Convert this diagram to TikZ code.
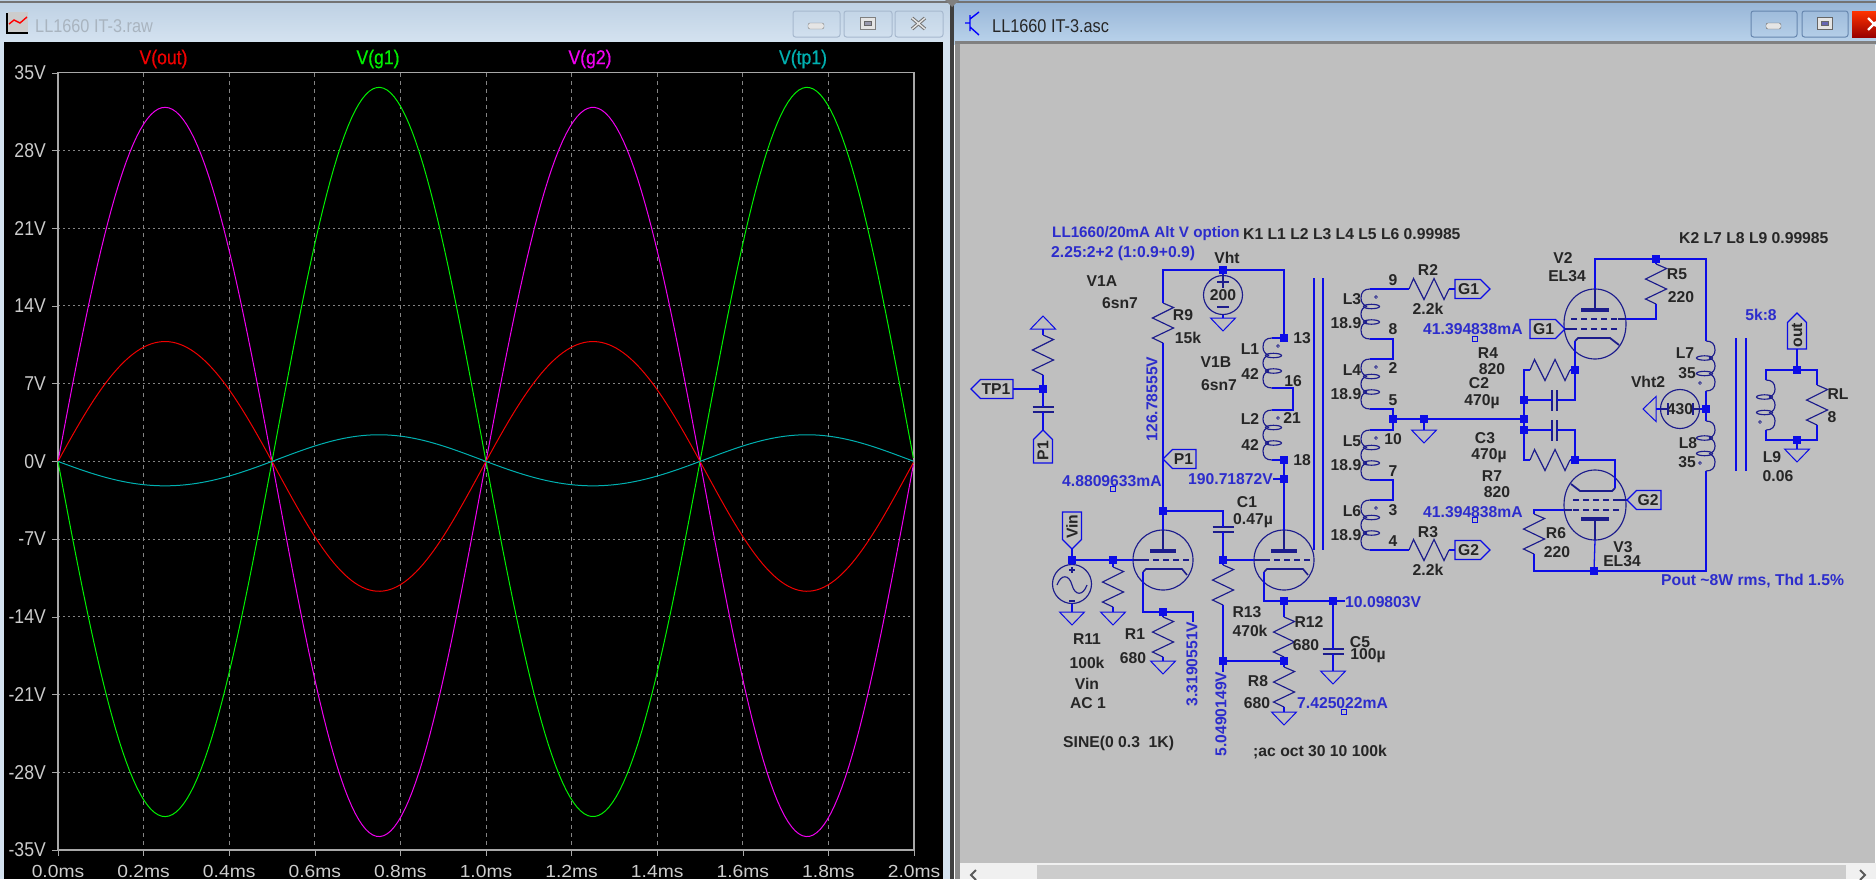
\documentclass[tikz,border=0pt]{standalone}
\usepackage{fontspec}
\setmainfont{Liberation Sans}
\newfontfamily\plotfont[FakeStretch=0.88]{Liberation Sans}
\newfontfamily\tickfont[FakeStretch=1.1]{Liberation Sans}
\newfontfamily\tracefont[FakeStretch=0.88,FakeBold=0.5]{Liberation Sans}
\definecolor{wirecol}{HTML}{0C0CE6}
\definecolor{partcol}{HTML}{1C1C8C}
\definecolor{lblcol}{HTML}{262626}
\definecolor{bluecol}{HTML}{2C2CCC}
\definecolor{sheet}{HTML}{BFBFBF}
\definecolor{plotgray}{HTML}{A8A8A8}
\definecolor{gridgray}{HTML}{848484}
\definecolor{vtp}{HTML}{00B0B0}
\definecolor{vgreen}{HTML}{00F000}
\definecolor{vpink}{HTML}{F000F0}
\definecolor{vred}{HTML}{F00000}
\definecolor{inacta}{HTML}{BDD0E3}
\definecolor{inactb}{HTML}{D4E2F0}
\definecolor{acta}{HTML}{96B4D6}
\definecolor{actb}{HTML}{BAD3EB}
\definecolor{btna}{HTML}{A6B8CE}
\definecolor{btnb}{HTML}{6686AE}
\definecolor{titlegray}{HTML}{A9B4BF}
\tikzset{
	wire/.style={draw=wirecol, line width=1.3pt},
	part/.style={draw=partcol, line width=1.15pt},
	dot/.style={fill=wirecol, inner sep=0, minimum size=7.5pt},
	probe/.style={draw=wirecol, line width=1pt, inner sep=0, minimum size=4.5pt},
	lbl/.style={text=lblcol, inner sep=0, font=\fontsize{15.7}{17}\selectfont\bfseries},
	vlbl/.style={text=bluecol, inner sep=0, font=\fontsize{15.7}{17}\selectfont\bfseries},
	axlbl/.style={text=black!20, inner sep=0, font=\plotfont\fontsize{20}{22}\selectfont},
	ticklbl/.style={text=black!20, inner sep=0, font=\tickfont\fontsize{17.5}{19}\selectfont},
	trlbl/.style={inner sep=0, font=\tracefont\fontsize{20}{22}\selectfont},
	srcc/.style={circle, part, inner sep=0, minimum size=39pt},
	winbtn/.style={draw=#1, rounded corners=2.5pt, line width=1pt, inner sep=0, minimum height=26pt},
	pics/resist/.style={code={
		\coordinate (-top) at (0, 0);
		\coordinate (-bot) at (0, 40);
		\draw[part] (-top) -- (10.5, 4.5) -- (-10.5, 15) -- (10.5, 25) -- (-10.5, 35) -- (-bot);
	}},
	pics/capac/.style={code={
		\coordinate (-top) at (0, 0);
		\coordinate (-bot) at (0, 5);
		\draw[part] (-10.5, 0) -- (10.5, 0) (-10.5, 5) -- (10.5, 5);
	}},
	pics/coil/.style={code={
		\coordinate (-top) at (0, 0);
		\coordinate (-bot) at (0, 50);
		\draw[part] (-top) .. controls (-6, 0) and (-9, 3) .. (-9, 9) .. controls (-9, 13) and (-7, 16) .. (-3, 17.5);
		\draw[part] (-3, 17.5) .. controls (-7, 18) and (-9, 21) .. (-9, 25) .. controls (-9, 29) and (-7, 32) .. (-3, 33);
		\draw[part] (-3, 33) .. controls (-7, 34) and (-9, 37) .. (-9, 41) .. controls (-9, 47) and (-6, 50) .. (-bot);
		\draw[part] (1.5, 17.5) ellipse (8 and 2.2);
		\draw[part] (1.5, 33) ellipse (8 and 2.2);
		\draw[part, line width=0.6pt] (6, 8) circle (1.4);
	}},
	pics/earth/.style={code={
		\coordinate (-top) at (0, 0);
		\draw[draw=wirecol, line width=1pt] (-12.5, 0) -- (12.5, 0) -- (0, 13) -- cycle;
	}},
	pics/flag/.style n args={3}{code={
		\coordinate (-tip) at (0, 0);
		\coordinate (-end) at (#1, 0);
		\draw[wire] (-tip) -- (9.5, -9.5) -- (#1, -9.5) -- (#1, 9.5) -- (9.5, 9.5) -- cycle;
		\node (-txt) at ({#1/2+4}, 0) [lbl, rotate=#3] {#2};
	}},
	pics/triode/.style={code={
		\coordinate (-plate) at (0, -30);
		\coordinate (-gl) at (-30, 0);
		\coordinate (-cath) at (-20, 12);
		\draw[part] (0, 0) circle (30);
		\draw[part] (-plate) -- (0, -9);
		\draw[part, fill=partcol] (-12.5, -10) rectangle (12.5, -8);
		\draw[part] (-gl) -- (-20, 0);
		\draw[part, dash pattern=on 6pt off 4pt] (-20, 0) -- (28, 0);
		\draw[part, line width=1.6pt] (-cath) -- (-17, 9) -- (19, 9) -- (24, 15);
	}},
	pics/pentode/.style={code={
		\coordinate (-plate) at (0, -35);
		\coordinate (-gr) at (31, -5);
		\coordinate (-gl) at (-31, 5);
		\coordinate (-cath) at (-20, 17);
		\draw[part] (-31, 0) .. controls (-31, -22) and (-16, -35) .. (0, -35) .. controls (16, -35) and (31, -22) .. (31, 0) .. controls (31, 22) and (16, 35) .. (0, 35) .. controls (-16, 35) and (-31, 22) .. (-31, 0);
		\draw[part] (-plate) -- (0, -14);
		\draw[part, fill=partcol] (-13, -15.5) rectangle (13, -13);
		\draw[part] (-gr) -- (23, -5) (-gl) -- (-24, 5);
		\draw[part, dash pattern=on 6pt off 4pt] (-24, -5) -- (23, -5);
		\draw[part, dash pattern=on 6pt off 4pt] (-24, 5) -- (23, 5);
		\draw[part, line width=1.8pt] (-cath) -- (-17, 14) -- (15, 14) -- (24, 21);
	}},
}
\begin{document}
\begin{tikzpicture}[x=1pt, y=-1pt]
	\useasboundingbox (0, 0) rectangle (1876, 879);
	% window frames
	\fill[inactb] (0, 0) rectangle (951, 879);
	\shade[top color=inacta, bottom color=inactb] (0, 0) rectangle (951, 42);
	\shade[top color=acta, bottom color=actb] (954, 0) rectangle (1876, 44);
	\fill[black!55] (0, 1) rectangle (1876, 3);
	\fill[black!75] (950, 0) rectangle (954, 879);
	\fill[black!50] (945, 0) -- (959, 0) -- (952, 7) -- cycle;
	\fill[black!50] (955, 41) rectangle (1876, 44);
	\fill[black!45] (955, 44) rectangle (960, 879);
	\fill[sheet] (960, 44) rectangle (1875, 863);
	\fill[white!94!black] (960, 863) rectangle (1876, 879);
	\fill[black!20] (1037, 865) rectangle (1846, 879);
	\draw[black!65, line width=2pt] (976, 870) -- (971, 875) -- (976, 880);
	\draw[black!65, line width=2pt] (1860, 870) -- (1865, 875) -- (1860, 880);
	\node (titlel) at (35, 26) [right, inner sep=0, text=titlegray, font=\plotfont\fontsize{18.5}{20}\selectfont] {LL1660 IT-3.raw};
	\node (titler) at (992, 26) [right, inner sep=0, text=black!85, font=\plotfont\fontsize{18.5}{20}\selectfont] {LL1660 IT-3.asc};
	\fill[black!20] (8, 12) rectangle (28, 32);
	\draw[black, line width=1.2pt] (7, 13) -- (7, 33) -- (28, 33);
	\draw[red, line width=1.4pt] (9, 24) -- (14, 20) -- (20, 23) -- (27, 17);
	\draw[blue, line width=1.4pt] (965, 23) -- (970, 23) (970, 15) -- (970, 31) (970, 19) -- (979, 12) (970, 27) -- (979, 35);
	% window buttons
	\foreach \nm/\bx/\bw in {mina/816.5/47, maxa/868/48, clsa/919/48}
		\node (\nm) at (\bx, 24) [winbtn=btna, minimum width=\bw] {};
	\foreach \nm/\bx/\bw in {minb/1774/46, maxb/1825/46}
		\node (\nm) at (\bx, 24) [winbtn=btnb, minimum width=\bw] {};
	\draw[rounded corners=2pt, draw=black!50, fill=white!90!black] (808, 23) rectangle (824, 29);
	\draw[draw=black!50, fill=white!90!black] (860, 17) rectangle (875, 29);
	\draw[draw=black!60, fill=blue!20!black!40] (864, 21) rectangle (871, 25);
	\draw[black!55, line width=3.4pt] (912, 18) -- (925, 29) (925, 18) -- (912, 29);
	\draw[white!90!black, line width=1.4pt] (912, 18) -- (925, 29) (925, 18) -- (912, 29);
	\draw[rounded corners=2pt, draw=black!60, fill=white!90!black] (1766, 23) rectangle (1781, 29);
	\draw[draw=black!60, fill=white!90!black] (1817, 17) rectangle (1832, 29);
	\draw[draw=black!60, fill=blue!50!black!60] (1821, 21) rectangle (1828, 25);
	\shade[top color=red!60!orange, bottom color=red!60!black] (1852, 11) rectangle (1876, 37);
	\draw[white, line width=2.4pt] (1868, 18) -- (1876, 26) (1868, 30) -- (1876, 22);
	% waveform window
	\fill[black] (4, 42) rectangle (943, 879);
	\foreach \i in {1,...,9}
		\draw[gridgray, line width=0.8pt, dash pattern=on 4pt off 4pt] ({58+85.6*\i}, 73) -- ({58+85.6*\i}, 850);
	\foreach \i in {1,...,9}
		\draw[gridgray, line width=0.8pt, dash pattern=on 2pt off 3pt] (58, {72.7+77.73*\i}) -- (914, {72.7+77.73*\i});
	\draw[plotgray, line width=1.2pt] (58, 72.7) rectangle (914, 850);
	\foreach \i/\tlab in {0/35V, 1/28V, 2/21V, 3/14V, 4/7V, 5/0V, 6/-7V, 7/-14V, 8/-21V, 9/-28V, 10/-35V} {
		\node (yl\i) at (46, {72.7+77.73*\i}) [axlbl, left] {\tlab};
		\draw[plotgray] (52, {72.7+77.73*\i}) -- (58, {72.7+77.73*\i});
	}
	\foreach \i/\tlab in {0/0.0ms, 1/0.2ms, 2/0.4ms, 3/0.6ms, 4/0.8ms, 5/1.0ms, 6/1.2ms, 7/1.4ms, 8/1.6ms, 9/1.8ms, 10/2.0ms} {
		\node (xl\i) at ({58+85.6*\i}, 871.5) [ticklbl] {\tlab};
		\draw[plotgray] ({58+85.6*\i}, 850) -- ({58+85.6*\i}, 856);
	}
	\foreach \clr/\amp/\off in {vgreen/-32.85/0.85, vpink/32.85/-0.95, vred/11.25/-0.45, vtp/-2.3/0.1}
		\draw[domain=0:2, samples=240, \clr, line width=1pt] plot({58+428*\x}, {461.4-11.1*(\amp*sin(360*\x)+\off*sin(360*\x)*sin(360*\x))});
	\node (tout) at (163.5, 59) [trlbl, text=vred] {V(out)};
	\node (tg1) at (378, 59) [trlbl, text=vgreen] {V(g1)};
	\node (tg2) at (590, 59) [trlbl, text=vpink] {V(g2)};
	\node (ttp) at (803, 59) [trlbl, text=vtp] {V(tp1)};
	% junctions
	\foreach \nm/\px/\py in {jvht/1223/270, j13/1284/338, j18/1284/460, j190/1284/479, jp1/1163/511, jtp/1043/389,
		jvin/1072/560, jr11/1113/560, jg/1223/560, j3v/1163/612, j10/1284/601, jc5/1333/601, j5v/1223/661, j5r/1284/661,
		j5/1393/419, jg5/1424/419, jmid/1524/419, jc2/1524/400, jc3/1524/430, jr4/1575/370, jr7/1575/460,
		jr5/1656/259, j430/1706/409, jout/1797/370, jl9/1797/440, jv3/1594/571}
		\node (\nm) at (\px, \py) [dot] {};
	% sources
	\node (vht) at (1223, 294) [srcc, lbl, yshift=-1pt] {200};
	\draw[part] (1217, 282) -- (1229, 282) (1223, 276) -- (1223, 288) (1217, 307) -- (1229, 307);
	\node (vinsrc) at (1072, 584) [srcc] {};
	\draw[part] (1057, 585) .. controls (1061, 574) and (1069, 574) .. (1072, 585) .. controls (1075, 596) and (1083, 596) .. (1087, 585);
	\draw[part] (1069, 570) -- (1075, 570) (1072, 567) -- (1072, 573) (1069, 601) -- (1075, 601);
	\node (vht2) at (1680, 409) [srcc, lbl] {430};
	\draw[part] (1668, 403) -- (1668, 415) (1660, 409) -- (1668, 409);
	\draw[part] (1693, 403) -- (1693, 415) (1693, 409) -- (1699, 409);
	% tubes
	\pic (v1a) at (1163, 560) {triode};
	\pic (v1b) at (1284, 560) {triode};
	\pic (v2) at (1595, 324) {pentode};
	\pic[rotate=180] (v3) at (1595, 505) {pentode};
	% resistors
	\pic (r9) at (1163, 303) {resist};
	\pic (rtp) at (1043, 335) {resist};
	\pic (r11) at (1113, 567) {resist};
	\pic (r1) at (1163, 617) {resist};
	\pic (r13) at (1223, 565) {resist};
	\pic (r12) at (1284, 617) {resist};
	\pic (r8) at (1284, 667) {resist};
	\pic (r5) at (1656, 264) {resist};
	\pic (r6) at (1534, 514) {resist};
	\pic (rl) at (1817, 385) {resist};
	\pic[rotate=90] (r2) at (1409, 289) {resist};
	\pic[rotate=90] (r3) at (1409, 550) {resist};
	\pic[rotate=90] (r4) at (1530, 370) {resist};
	\pic[rotate=90] (r7) at (1530, 460) {resist};
	% capacitors
	\pic (ctp) at (1043, 407) {capac};
	\pic (c1) at (1223, 527) {capac};
	\pic (c5) at (1333, 649) {capac};
	\pic[rotate=90] (c2) at (1552, 400) {capac};
	\pic[rotate=90] (c3) at (1552, 430) {capac};
	% inductors
	\pic (l1) at (1272, 338) {coil};
	\pic (l2) at (1272, 410) {coil};
	\pic (l3) at (1370, 289) {coil};
	\pic (l4) at (1370, 359) {coil};
	\pic (l5) at (1370, 430) {coil};
	\pic (l6) at (1370, 500) {coil};
	\pic[rotate=180] (l7) at (1706, 391) {coil};
	\pic[rotate=180] (l8) at (1706, 471) {coil};
	\pic[rotate=180] (l9) at (1766, 430) {coil};
	% grounds
	\pic (gvht) at (1223, 318) {earth};
	\pic[rotate=180] (gtp) at (1043, 329) {earth};
	\pic (gvin) at (1072, 612) {earth};
	\pic (gr11) at (1113, 612) {earth};
	\pic (gr1) at (1163, 661) {earth};
	\pic (gr8) at (1284, 712) {earth};
	\pic (gc5) at (1333, 671) {earth};
	\pic (g5) at (1424, 430) {earth};
	\pic[rotate=-90] (gv2) at (1656, 409) {earth};
	\pic (gl9) at (1797, 449) {earth};
	% net flags
	\pic (ftp1) at (971, 389) {flag={42}{TP1}{0}};
	\pic[rotate=-90] (fp1a) at (1043, 430) {flag={33}{P1}{90}};
	\pic (fp1b) at (1163, 459) {flag={33}{P1}{0}};
	\pic[rotate=90] (fvin) at (1072, 549) {flag={37}{Vin}{90}};
	\pic[rotate=180] (fg1a) at (1490, 289) {flag={35}{G1}{0}};
	\pic[rotate=180] (fg1b) at (1565, 329) {flag={35}{G1}{0}};
	\pic[rotate=180] (fg2a) at (1490, 550) {flag={35}{G2}{0}};
	\pic (fg2b) at (1627, 500) {flag={34}{G2}{0}};
	\pic[rotate=-90] (fout) at (1797, 313) {flag={36}{out}{90}};
	% free ends
	\coordinate (t16) at (1293, 399);
	\coordinate (t8) at (1393, 349);
	\coordinate (t7) at (1393, 490);
	\coordinate (t33) at (1193, 622);
	\coordinate (t5v) at (1223, 672);
	\coordinate (t10) at (1345, 601);
	\coordinate (t190) at (1273, 479);
	% wires
	\draw[wire] (r9-top) |- (jvht) -| (j13);
	\draw[wire] (jvht) -- (vht);
	\draw[wire] (vht) -- (gvht-top);
	\draw[wire] (r9-bot) -- (jp1);
	\draw[wire] (jp1) -- (v1a-plate);
	\draw[wire] (jp1) -| (c1-top);
	\draw[wire] (c1-bot) -- (jg);
	\draw[wire] (jg) -- (r13-top);
	\draw[wire] (jg) -- (v1b-gl);
	\draw[wire] (j13) -- (l1-top);
	\draw[wire] (l1-bot) -| (t16) |- (l2-top);
	\draw[wire] (l2-bot) -- (j18);
	\draw[wire] (j18) -- (j190);
	\draw[wire] (j190) -- (v1b-plate);
	\draw[wire] (t190) -- (j190);
	\draw[wire] (ftp1-end) -- (jtp);
	\draw[wire] (gtp-top) -- (rtp-top);
	\draw[wire] (rtp-bot) -- (jtp);
	\draw[wire] (jtp) -- (ctp-top);
	\draw[wire] (ctp-bot) -- (fp1a-tip);
	\draw[wire] (fvin-tip) -- (jvin);
	\draw[wire] (jvin) -- (vinsrc);
	\draw[wire] (vinsrc) -- (gvin-top);
	\draw[wire] (jvin) -- (jr11);
	\draw[wire] (jr11) -- (v1a-gl);
	\draw[wire] (jr11) -- (r11-top);
	\draw[wire] (r11-bot) -- (gr11-top);
	\draw[wire] (v1a-cath) |- (j3v);
	\draw[wire] (j3v) -| (t33);
	\draw[wire] (j3v) -- (r1-top);
	\draw[wire] (r1-bot) -- (gr1-top);
	\draw[wire] (r13-bot) -- (j5v);
	\draw[wire] (j5v) -- (t5v);
	\draw[wire] (j5v) -- (j5r);
	\draw[wire] (v1b-cath) |- (j10);
	\draw[wire] (j10) -- (jc5);
	\draw[wire] (jc5) -- (t10);
	\draw[wire] (j10) -- (r12-top);
	\draw[wire] (r12-bot) -- (j5r);
	\draw[wire] (j5r) -- (r8-top);
	\draw[wire] (r8-bot) -- (gr8-top);
	\draw[wire] (jc5) -- (c5-top);
	\draw[wire] (c5-bot) -- (gc5-top);
	\draw[wire] (l3-top) -- (r2-top);
	\draw[wire] (r2-bot) -- (fg1a-end);
	\draw[wire] (l3-bot) -| (t8) |- (l4-top);
	\draw[wire] (l4-bot) -| (j5);
	\draw[wire] (j5) |- (l5-top);
	\draw[wire] (l5-bot) -| (t7) |- (l6-top);
	\draw[wire] (l6-bot) -- (r3-top);
	\draw[wire] (r3-bot) -- (fg2a-end);
	\draw[wire] (j5) -- (jg5);
	\draw[wire] (jg5) -- (jmid);
	\draw[wire] (jg5) -- (g5-top);
	\draw[wire] (r4-top) -| (jc2);
	\draw[wire] (jc2) -- (jmid);
	\draw[wire] (jmid) -- (jc3);
	\draw[wire] (jc3) |- (r7-top);
	\draw[wire] (r4-bot) -- (jr4);
	\draw[wire] (r7-bot) -- (jr7);
	\draw[wire] (jc2) -- (c2-top);
	\draw[wire] (c2-bot) -| (jr4);
	\draw[wire] (jc3) -- (c3-top);
	\draw[wire] (c3-bot) -| (jr7);
	\draw[wire] (jr4) -- (v2-cath);
	\draw[wire] (jr7) -| (v3-cath);
	\draw[wire] (v2-plate) |- (jr5);
	\draw[wire] (jr5) -| (l7-bot);
	\draw[wire] (jr5) -- (r5-top);
	\draw[wire] (r5-bot) |- (v2-gr);
	\draw[wire] (fg1b-tip) -- (v2-gl);
	\draw[wire] (l7-top) -- (j430);
	\draw[wire] (j430) -- (l8-bot);
	\draw[wire] (vht2) -- (j430);
	\draw[wire] (gv2-top) -- (vht2);
	\draw[wire] (v3-gl) -- (fg2b-tip);
	\draw[wire] (v3-gr) -| (r6-top);
	\draw[wire] (r6-bot) |- (jv3);
	\draw[wire] (jv3) -| (l8-top);
	\draw[wire] (v3-plate) -- (jv3);
	\draw[wire] (l9-bot) |- (jout);
	\draw[wire] (jout) -| (rl-top);
	\draw[wire] (rl-bot) |- (jl9);
	\draw[wire] (l9-top) |- (jl9);
	\draw[wire] (fout-end) -- (jout);
	\draw[wire] (jl9) -- (gl9-top);
	% transformer cores
	\draw[wire] (1314, 278) -- (1314, 550) (1323, 278) -- (1323, 550);
	\draw[wire] (1736, 338) -- (1736, 471) (1746, 338) -- (1746, 471);
	% current probes
	\foreach \nm/\px/\py in {pa/1113/489, pb/1475/339, pc/1475/520, pd/1344/712}
		\node (\nm) at (\px, \py) [probe] {};
	% blue texts
	\node (note1) at (1052, 234) [vlbl, right, font=\fontsize{15.2}{17}\selectfont\bfseries] {LL1660/20mA Alt V option};
	\node (note2) at (1051, 253) [vlbl, right] {2.25:2+2 (1:0.9+0.9)};
	\node (v126) at (1152, 399) [vlbl, rotate=90] {126.78555V};
	\node (i488) at (1062, 481) [vlbl, right] {4.8809633mA};
	\node (v190) at (1188, 479) [vlbl, right] {190.71872V};
	\node (v331) at (1192, 664) [vlbl, rotate=90] {3.3190551V};
	\node (v504) at (1221, 714) [vlbl, rotate=90] {5.0490149V};
	\node (v100) at (1345, 602) [vlbl, right] {10.09803V};
	\node (i742) at (1297, 703) [vlbl, right] {7.425022mA};
	\node (i413a) at (1423, 329) [vlbl, right] {41.394838mA};
	\node (i413b) at (1423, 512) [vlbl, right] {41.394838mA};
	\node (ratio) at (1761, 315) [vlbl] {5k:8};
	\node (pout) at (1661, 581) [vlbl, right] {Pout \textasciitilde8W rms, Thd 1.5\%};
	% black texts
	\node (k1) at (1243, 234) [lbl, right] {K1 L1 L2 L3 L4 L5 L6 0.99985};
	\node (k2) at (1679, 238) [lbl, right] {K2 L7 L8 L9 0.99985};
	\node (sine) at (1063, 743) [lbl, right] {SINE(0 0.3~ 1K)};
	\node (acoct) at (1253, 752) [lbl, right] {;ac oct 30 10 100k};
	\foreach \nm/\px/\py/\tlab in {
		tvht/1227/258/Vht, tv1a/1102/281/V1A, t6a/1120/303/6sn7, tr9/1183/315/R9, t15k/1188/338/15k,
		tv1b/1216/362/V1B, t6b/1219/385/6sn7, tl1/1250/349/L1, t42a/1250/374/42, tl2/1250/419/L2, t42b/1250/445/42,
		t13/1302/338/13, t16b/1293/381/16, t21/1292/418/21, t18/1302/460/18,
		tl3/1352/299/L3, t189a/1346/323/18.9, tl4/1352/370/L4, t189b/1346/394/18.9,
		tl5/1352/441/L5, t189c/1346/465/18.9, tl6/1352/511/L6, t189d/1346/535/18.9,
		t9/1393/280/9, t8b/1393/329/8, t2/1393/368/2, t5/1393/400/5, t10b/1393/439/10, t7b/1393/471/7, t3/1393/510/3, t4/1393/541/4,
		tr2/1428/270/R2, t22a/1428/309/2.2k, tr3/1428/532/R3, t22b/1428/570/2.2k,
		tr4/1488/353/R4, t820a/1492/369/820, tc2/1479/383/C2, tu2/1482/402/470µ,
		tc3/1485/438/C3, tu3/1489/456/470µ, tr7/1492/476/R7, t820b/1497/492/820,
		tv2/1563/258/V2, tel2/1567/276/EL34, tr5/1677/274/R5, t220a/1681/297/220,
		tv3/1623/547/V3, tel3/1622/561/EL34, tr6/1556/533/R6, t220b/1557/552/220,
		tvht2/1648/382/Vht2, tl7/1685/353/L7, t35a/1687/373/35, tl8/1688/443/L8, t35b/1687/462/35,
		tl9/1772/457/L9, t006/1778/476/0.06, trl/1838/394/RL, t8c/1832/417/8,
		tc1/1247/502/C1, t047/1253/521/0.47µ, tr13/1247/612/R13, t470/1250/631/470k,
		tr11/1087/639/R11, t100/1087/663/100k, tvin/1087/684/Vin, tac/1088/703/AC 1,
		tr1/1135/634/R1, t680a/1133/658/680, tr12/1309/622/R12, t680b/1306/645/680,
		tr8/1258/681/R8, t680c/1257/703/680, tc5/1360/642/C5, t100u/1368/656/100µ}
		\node (\nm) at (\px, \py) [lbl] {\tlab};
\end{tikzpicture}
\end{document}
